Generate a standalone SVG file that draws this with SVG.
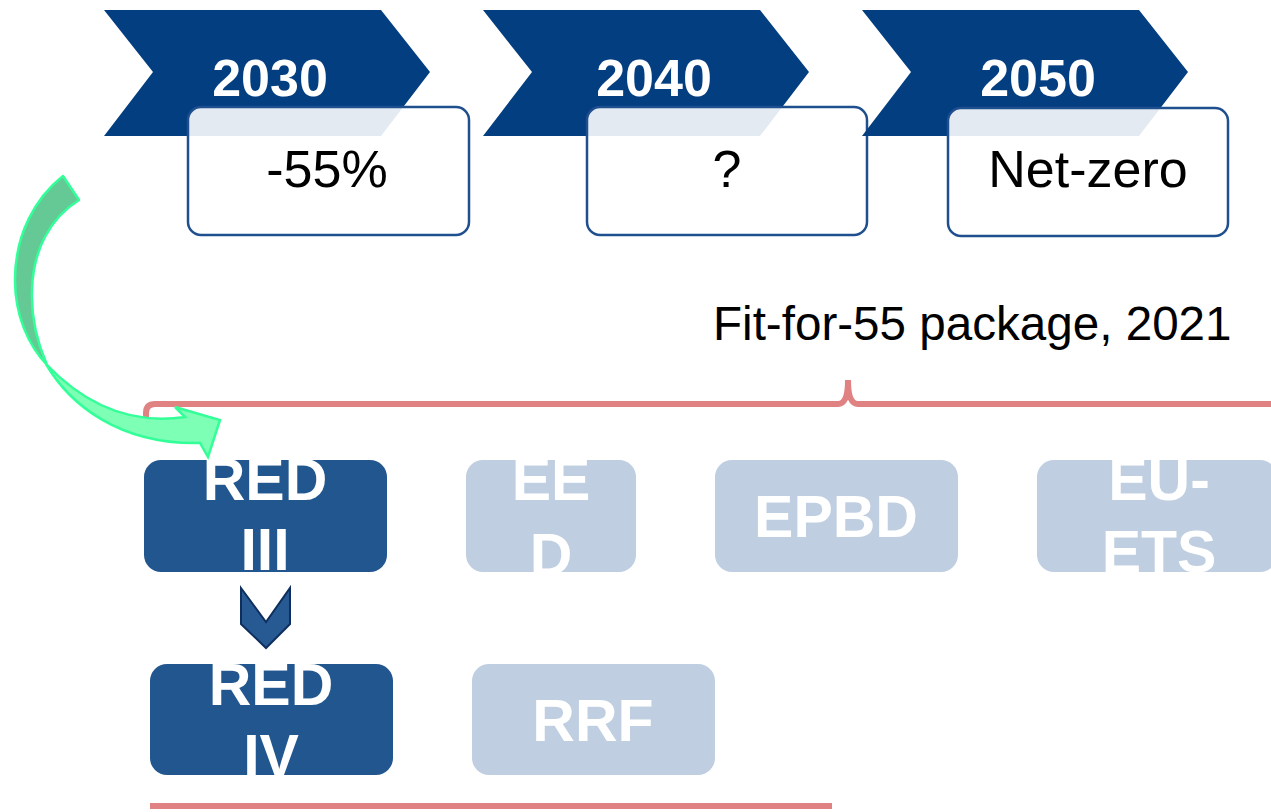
<svg xmlns="http://www.w3.org/2000/svg" width="1271" height="812" viewBox="0 0 1271 812">
<style>
.chev{fill:#033e80}
.yr{font-family:"Liberation Sans",Arial,sans-serif;font-weight:bold;font-size:52px;fill:#fff;text-anchor:middle}
.tbox{fill:#fff;fill-opacity:0.89;stroke:#1f4f8e;stroke-width:2.5}
.tval{font-family:"Liberation Sans",Arial,sans-serif;font-size:52px;fill:#000;text-anchor:middle}
.dark{fill:#22568f}
.light{fill:#bfcee0}
.lbl{font-family:"Liberation Sans",Arial,sans-serif;font-weight:bold;font-size:59px;fill:#fff;text-anchor:middle}
.red{fill:none;stroke:#e08282;stroke-width:6}
</style>
<rect width="1271" height="812" fill="#fff"/>
<g id="y2030">
<polygon class="chev" points="104,10 381,10 430,72 381,136 104,136 153,72"/>
<text class="yr" x="270" y="96">2030</text>
<rect class="tbox" x="188" y="107" width="281" height="128" rx="13"/>
<text class="tval" x="327" y="187">-55%</text>
</g>
<g id="y2040">
<polygon class="chev" points="483,10 760,10 809,72 760,136 483,136 532,72"/>
<text class="yr" x="654" y="96">2040</text>
<rect class="tbox" x="587" y="107" width="280" height="128" rx="13"/>
<text class="tval" x="727" y="187">?</text>
</g>
<g id="y2050">
<polygon class="chev" points="862,10 1139,10 1188,72 1139,136 862,136 911,72"/>
<text class="yr" x="1038" y="96">2050</text>
<rect class="tbox" x="948" y="108" width="280" height="128" rx="13"/>
<text class="tval" x="1088" y="187">Net-zero</text>
</g>
<text id="fit55" x="713" y="340" font-family="Liberation Sans, Arial, sans-serif" font-size="47.6" fill="#000">Fit-for-55 package, 2021</text>
<g id="brace">
<path class="red" d="M146,428 L146,413 Q146,404 155,404 L838,404 Q848,404 848,380 Q848,404 858,404 L1275,404"/>
<line class="red" x1="150" y1="806" x2="832" y2="806" stroke-width="5"/>
</g>
<g id="red3">
<rect class="dark" x="144" y="460" width="243" height="112" rx="17"/>
<text class="lbl" x="265" y="500">RED</text>
<text class="lbl" x="265" y="570">III</text>
</g>
<g id="eed">
<rect class="light" x="466" y="460" width="170" height="112" rx="17"/>
<text class="lbl" x="551" y="500">EE</text>
<text class="lbl" x="551" y="575">D</text>
</g>
<g id="epbd">
<rect class="light" x="715" y="460" width="243" height="112" rx="17"/>
<text class="lbl" x="836" y="537">EPBD</text>
</g>
<g id="euets">
<rect class="light" x="1037" y="460" width="240" height="112" rx="17"/>
<text class="lbl" x="1159" y="500">EU-</text>
<text class="lbl" x="1159" y="572">ETS</text>
</g>
<g id="red4">
<rect class="dark" x="150" y="664" width="243" height="111" rx="17"/>
<text class="lbl" x="271" y="705">RED</text>
<text class="lbl" x="271" y="776">IV</text>
</g>
<g id="rrf">
<rect class="light" x="472" y="664" width="243" height="111" rx="17"/>
<text class="lbl" x="593" y="741">RRF</text>
</g>
<g id="connectors">
<polygon points="241,588 266,622 290,588 290,624 266,648 241,624" fill="#275a93" stroke="#0e2f5e" stroke-width="2"/>
<path d="M63,176 C35,198 15,235 15,280 C15,315 28,345 47,365 C36,340 31,315 32,290 C33,250 50,218 79,200 Z" fill="#64c995" stroke="#33ff99" stroke-width="2.5" stroke-linejoin="round"/>
<path d="M46,364 C70,405 120,445 200,443 L208,457 L220,420 L175,407 L185,417 C130,425 85,405 46,364 Z" fill="#7dffb5" stroke="#33ff99" stroke-width="2.5" stroke-linejoin="miter"/>
</g>
</svg>
